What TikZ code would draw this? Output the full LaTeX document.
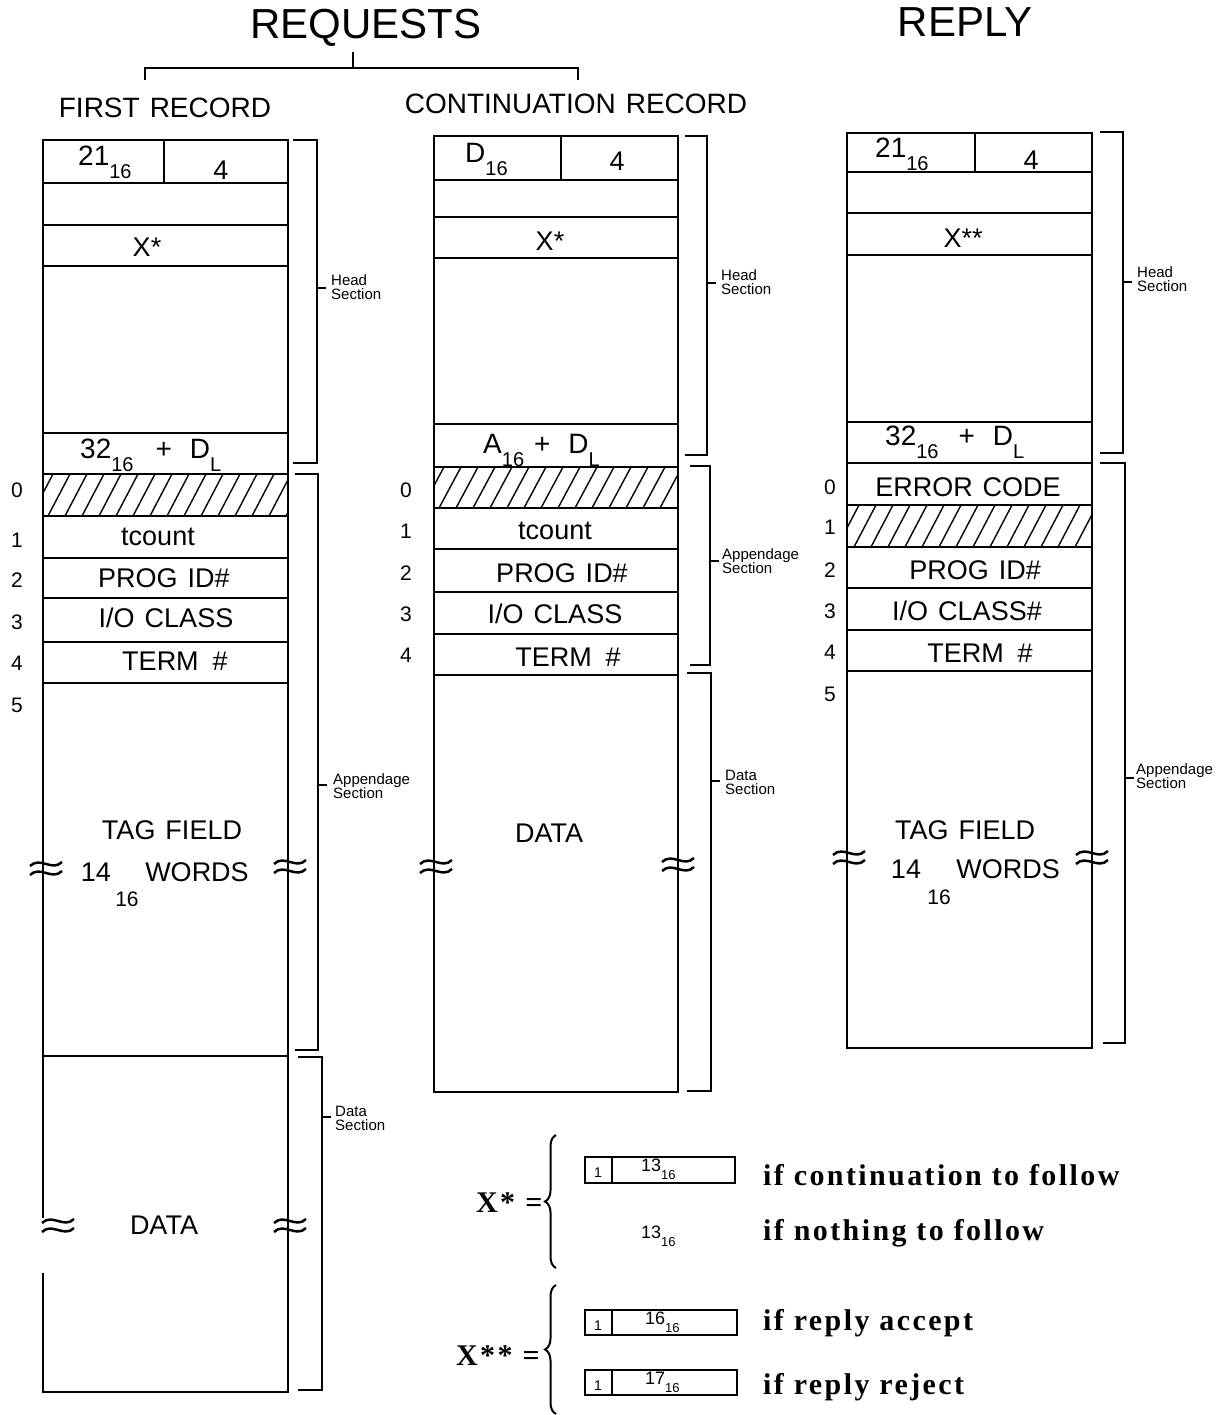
\documentclass[tikz,border=0pt]{standalone}
\usepackage{fontspec}
\setmainfont{Liberation Sans}
\newfontfamily\legfont[LetterSpace=8]{Liberation Serif}
\usetikzlibrary{decorations.pathreplacing}
\newcommand\lsub[1]{\raisebox{-13pt}{\fontsize{20}{20}\selectfont #1}}
\newcommand\ssub[1]{\raisebox{-8pt}{\fontsize{13}{13}\selectfont #1}}
\newcommand\tld[2]{%
  \draw[brk] (#1-16,#2-2) .. controls (#1-6,#2-12) and (#1+6,#2+4) .. (#1+16,#2-6);
  \draw[brk] (#1-16,#2+7) .. controls (#1-6,#2-3) and (#1+6,#2+13) .. (#1+16,#2+3);}
\tikzset{
  rec/.style={line width=2.4pt},
  hatchl/.style={line width=1.4pt},
  brk/.style={line width=2.5pt},
  brkt/.style={line width=2.4pt},
  title/.style={font=\fontsize{42}{42}\selectfont, inner sep=0pt},
  head/.style={font=\fontsize{28}{28}\selectfont, inner sep=0pt},
  cell/.style={font=\fontsize{27}{27}\selectfont, inner sep=0pt},
  cellb/.style={font=\fontsize{28}{28}\selectfont, inner sep=0pt, anchor=base west},
  idx/.style={font=\fontsize{21}{21}\selectfont, inner sep=0pt},
  sect/.style={font=\fontsize{15}{14}\selectfont, align=left, inner sep=0pt, anchor=west},
  legt/.style={font=\legfont\bfseries\fontsize{30}{30}\selectfont, anchor=west, inner sep=0pt},
  legbox/.style={line width=1.8pt},
  legn/.style={font=\fontsize{18}{18}\selectfont, inner sep=0pt, anchor=base west},
}
\begin{document}
\begin{tikzpicture}[x=1pt,y=-1pt]
\useasboundingbox (0,0) rectangle (1224,1415);

% ---------- titles ----------
\node[title] (treq) at (366,28) {REQUESTS};
\node[title] (trep) at (965,22) {REPLY};
\coordinate (bL) at (145,80);
\coordinate (bR) at (578,80);
\draw[line width=2pt] (bL) -- (145,68) -- (578,68) -- (bR);
\draw[line width=2pt] (353,52) -- (353,68);
\node[head] (hfirst) at (165,108) {FIRST\hspace{10pt}RECORD};
\node[head] (hcont) at (576,104) {CONTINUATION\hspace{10pt}RECORD};

% ---------- left column: first record ----------
\draw[rec] (43,1218) -- (43,140) -- (288,140) -- (288,1392) -- (43,1392) -- (43,1273);
\foreach \yy in {183,225,266,433,474,516,558,598,642,683,1056}
  \draw[rec] (43,\yy) -- (288,\yy);
\draw[rec] (164,140) -- (164,183);
\begin{scope}
  \clip (43,474) rectangle (288,516);
  \foreach \x in {14,31,...,300} \draw[hatchl] (\x,516) -- (\x+22,474);
\end{scope}
\node[cellb] (l21) at (78,166) {21\lsub{16}};
\node[cell] (l4) at (221,170) {4};
\node[cell] (lx) at (147,247) {X*};
\node[cellb] (l32) at (80,458) {32\lsub{16}\hspace{22pt}+\hspace{18pt}D\lsub{L}};
\node[cell] (ltc) at (158,537) {tcount};
\node[cell] (lpid) at (164,578) {PROG\hspace{10pt}ID\#};
\node[cell] (lio) at (166,618) {I/O\hspace{10pt}CLASS};
\node[cell] (lterm) at (175,661) {TERM\hspace{14pt}\#};
\node[cell] (ltag) at (172,830) {TAG\hspace{10pt}FIELD};
\node[cell] (l14) at (96,872) {14};
\node[cell] (lwords) at (197,872) {WORDS};
\node[idx] (l16) at (127,899) {16};
\node[cell] (ldata) at (164,1225) {DATA};
\foreach \n/\yy in {0/490,1/540,2/580,3/622,4/663,5/705}
  \node[idx] (li\n) at (17,\yy) {\n};
\tld{46}{868}
\tld{290}{866}
\tld{58}{1225}
\tld{290}{1225}
% brackets
\draw[brkt] (293,140) -- (317,140) -- (317,463) -- (293,463);
\draw[brkt] (317,288) -- (326,288);
\node[sect] (lhs) at (331,287) {Head\\Section};
\draw[brkt] (295,474) -- (318,474) -- (318,1050) -- (295,1050);
\draw[brkt] (318,785) -- (327,785);
\node[sect] (las) at (333,786) {Appendage\\Section};
\draw[brkt] (298,1057) -- (322,1057) -- (322,1390) -- (298,1390);
\draw[brkt] (322,1117) -- (331,1117);
\node[sect] (lds) at (335,1118) {Data\\Section};

% ---------- middle column: continuation record ----------
\draw[rec] (434,136) rectangle (678,1092);
\foreach \yy in {180,217,258,424,467,508,549,592,634,675}
  \draw[rec] (434,\yy) -- (678,\yy);
\draw[rec] (561,136) -- (561,180);
\begin{scope}
  \clip (434,467) rectangle (678,508);
  \foreach \x in {405,422,...,690} \draw[hatchl] (\x,508) -- (\x+22,467);
\end{scope}
\node[cellb] (md) at (465,163) {D\lsub{16}};
\node[cell] (m4) at (617,161) {4};
\node[cell] (mx) at (550,241) {X*};
\node[cellb] (ma) at (483,453) {A\lsub{16}\hspace{10pt}+\hspace{18pt}D\lsub{L}};
\node[cell] (mtc) at (555,531) {tcount};
\node[cell] (mpid) at (562,573) {PROG\hspace{10pt}ID\#};
\node[cell] (mio) at (555,614) {I/O\hspace{10pt}CLASS};
\node[cell] (mterm) at (568,657) {TERM\hspace{14pt}\#};
\node[cell] (mdata) at (549,833) {DATA};
\foreach \n/\yy in {0/490,1/531,2/573,3/614,4/655}
  \node[idx] (mi\n) at (406,\yy) {\n};
\tld{436}{866}
\tld{678}{864}
\draw[brkt] (685,136) -- (707,136) -- (707,455) -- (685,455);
\draw[brkt] (707,283) -- (716,283);
\node[sect] (mhs) at (721,282) {Head\\Section};
\draw[brkt] (690,466) -- (710,466) -- (710,665) -- (690,665);
\draw[brkt] (710,561) -- (719,561);
\node[sect] (mas) at (722,561) {Appendage\\Section};
\draw[brkt] (687,673) -- (711,673) -- (711,1091) -- (687,1091);
\draw[brkt] (711,781) -- (720,781);
\node[sect] (mds) at (725,782) {Data\\Section};

% ---------- right column: reply ----------
\draw[rec] (847,133) rectangle (1092,1048);
\foreach \yy in {172,213,255,422,463,505,547,588,630,671}
  \draw[rec] (847,\yy) -- (1092,\yy);
\draw[rec] (975,133) -- (975,172);
\begin{scope}
  \clip (847,505) rectangle (1092,547);
  \foreach \x in {820,837,...,1100} \draw[hatchl] (\x,547) -- (\x+22,505);
\end{scope}
\node[cellb] (r21) at (875,158) {21\lsub{16}};
\node[cell] (r4) at (1031,160) {4};
\node[cell] (rx) at (963,238) {X**};
\node[cellb] (r32) at (885,445) {32\lsub{16}\hspace{20pt}+\hspace{18pt}D\lsub{L}};
\node[cell] (rerr) at (968,487) {ERROR\hspace{10pt}CODE};
\node[cell] (rpid) at (975,570) {PROG\hspace{10pt}ID\#};
\node[cell] (rio) at (967,611) {I/O\hspace{10pt}CLASS\#};
\node[cell] (rterm) at (980,653) {TERM\hspace{14pt}\#};
\node[cell] (rtag) at (965,830) {TAG\hspace{10pt}FIELD};
\node[cell] (r14) at (906,869) {14};
\node[cell] (rwords) at (1008,869) {WORDS};
\node[idx] (r16) at (939,897) {16};
\foreach \n/\yy in {0/487,1/527,2/570,3/611,4/652,5/694}
  \node[idx] (ri\n) at (830,\yy) {\n};
\tld{849}{857}
\tld{1092}{857}
\draw[brkt] (1100,132) -- (1123,132) -- (1123,453) -- (1100,453);
\draw[brkt] (1123,282) -- (1132,282);
\node[sect] (rhs) at (1137,279) {Head\\Section};
\draw[brkt] (1100,463) -- (1125,463) -- (1125,1043) -- (1103,1043);
\draw[brkt] (1125,778) -- (1134,778);
\node[sect] (ras) at (1136,776) {Appendage\\Section};

% ---------- legend ----------
\node[legt] (xs) at (476,1203) {X*\hspace{10pt}=};
\draw[line width=2pt, decorate, decoration={brace, amplitude=11pt}] (556,1268) -- (556,1135);
\draw[legbox] (585,1157) rectangle (735,1183);
\draw[legbox] (612,1157) -- (612,1183);
\node[legn] (b1a) at (594,1177) {\fontsize{14}{14}\selectfont 1};
\node[legn] (b1b) at (641,1171) {13\ssub{16}};
\node[legt] (t1) at (763,1175) {if continuation to follow};
\node[legn] (n13) at (641,1238) {13\ssub{16}};
\node[legt] (t2) at (763,1233) {if nothing to follow};

\node[legt] (xss) at (456,1356) {X**\hspace{10pt}=};
\draw[line width=2pt, decorate, decoration={brace, amplitude=11pt}] (556,1414) -- (556,1285);
\draw[legbox] (585,1310) rectangle (737,1335);
\draw[legbox] (612,1310) -- (612,1335);
\node[legn] (b2a) at (594,1330) {\fontsize{14}{14}\selectfont 1};
\node[legn] (b2b) at (645,1324) {16\ssub{16}};
\node[legt] (t3) at (763,1323) {if reply accept};
\draw[legbox] (585,1370) rectangle (737,1395);
\draw[legbox] (612,1370) -- (612,1395);
\node[legn] (b3a) at (594,1390) {\fontsize{14}{14}\selectfont 1};
\node[legn] (b3b) at (645,1384) {17\ssub{16}};
\node[legt] (t4) at (763,1387) {if reply reject};
\end{tikzpicture}
\end{document}
